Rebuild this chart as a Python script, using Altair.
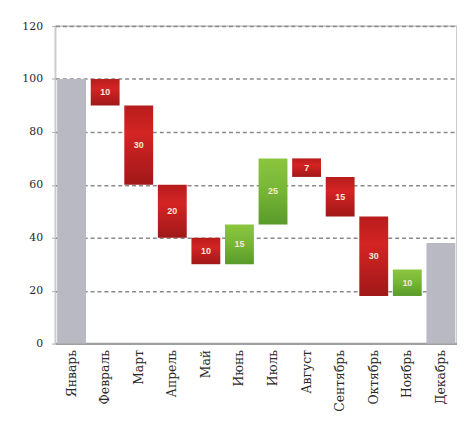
import altair as alt
import pandas as pd

months = ["Январь", "Февраль", "Март", "Апрель", "Май", "Июнь", "Июль",
          "Август", "Сентябрь", "Октябрь", "Ноябрь", "Декабрь"]
bar_start = [0, 100, 90, 60, 40, 30, 45, 70, 63, 48, 18, 0]
bar_end = [100, 90, 60, 40, 30, 45, 70, 63, 48, 18, 28, 38]
labels = ["", "10", "30", "20", "10", "15", "25", "7", "15", "30", "10", ""]
kinds = ["total", "down", "down", "down", "down", "up", "up",
         "down", "down", "down", "up", "total"]
y_ticks = [0, 20, 40, 60, 80, 100, 120]

df = pd.DataFrame({"month": months, "start": bar_start, "end": bar_end,
                   "label": labels, "kind": kinds})

x_enc = alt.X("month:N", sort=months, title=None,
              scale=alt.Scale(paddingInner=0.14, paddingOuter=0.05),
              axis=alt.Axis(labelAngle=-90, labelFont="DejaVu Serif",
                            labelFontSize=12.5, labelColor="#2a2a2a",
                            ticks=False,
                            domainColor="#a0a0a0", domainWidth=2,
                            labelPadding=6))
y_enc = alt.Y("start:Q", title=None,
              scale=alt.Scale(domain=[0, 120], nice=False),
              axis=alt.Axis(values=y_ticks, labelFont="DejaVu Serif",
                            labelFontSize=11, labelColor="#2a2a2a",
                            domain=False,
                            tickSize=4, tickColor="#b0b0b0", labelPadding=9,
                            gridColor="#8a8a8a", gridDash=[4, 3],
                            gridWidth=1.5))

base = alt.Chart(df).encode(x=x_enc)

red_grad = alt.Gradient(gradient="linear", x1=0, y1=0, x2=0, y2=1,
                        stops=[alt.GradientStop(color="#b81c1c", offset=0),
                               alt.GradientStop(color="#d42424", offset=0.35),
                               alt.GradientStop(color="#a01818", offset=1)])
green_grad = alt.Gradient(gradient="linear", x1=0, y1=0, x2=0, y2=1,
                          stops=[alt.GradientStop(color="#8cc640", offset=0),
                                 alt.GradientStop(color="#76b536", offset=0.5),
                                 alt.GradientStop(color="#5a9a2a", offset=1)])

gray = base.mark_bar(color="#b9b9c4").encode(
    y=y_enc, y2="end:Q").transform_filter("datum.kind == 'total'")
red = base.mark_bar(color=red_grad).encode(
    y=y_enc, y2="end:Q").transform_filter("datum.kind == 'down'")
green = base.mark_bar(color=green_grad).encode(
    y=y_enc, y2="end:Q").transform_filter("datum.kind == 'up'")
text = base.mark_text(color="#f6e8d2", fontSize=9, fontWeight="bold",
                      font="Liberation Sans").encode(
    y=alt.Y("mid:Q"), text="label:N"
).transform_calculate(mid="(datum.start + datum.end) / 2")

chart = alt.layer(gray, red, green, text).properties(
    width=406, height=321,
    background="#ffffff",
    padding={"left": 48, "top": 16, "right": 0, "bottom": 80},
    autosize=alt.AutoSizeParams(type="none"),
).configure_view(stroke="#cccccc", strokeWidth=2)

chart.save("out.html", embed_options={"renderer": "svg", "actions": False})
